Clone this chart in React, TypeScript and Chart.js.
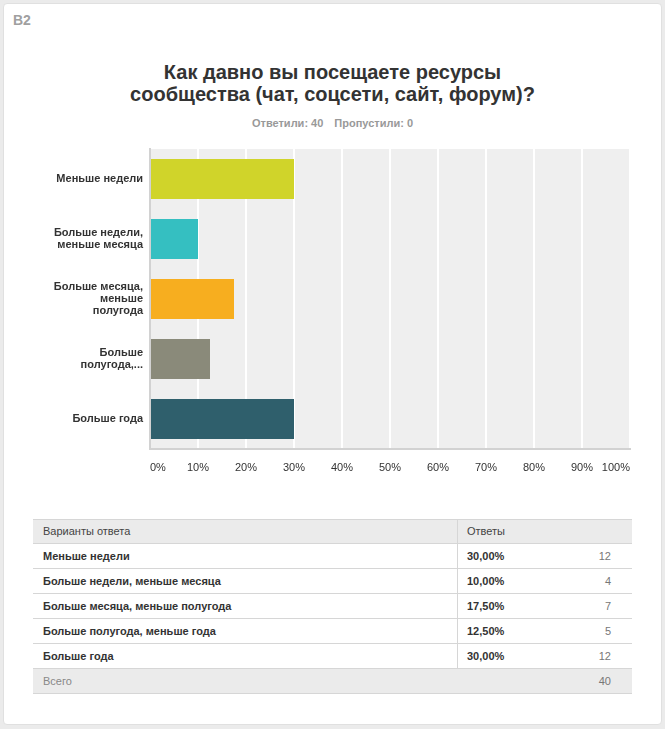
import React, { useEffect, useRef } from "react";
import { Chart, registerables } from "chart.js";

Chart.register(...registerables);

const categoryLabels: string[][] = [
  ["Меньше недели"],
  ["Больше недели,", "меньше месяца"],
  ["Больше месяца,", "меньше", "полугода"],
  ["Больше", "полугода,..."],
  ["Больше года"],
];
const tableLabels: string[] = [
  "Меньше недели",
  "Больше недели, меньше месяца",
  "Больше месяца, меньше полугода",
  "Больше полугода, меньше года",
  "Больше года",
];
const percentValues: number[] = [30, 10, 17.5, 12.5, 30];
const countValues: number[] = [12, 4, 7, 5, 12];
const barColors: string[] = ["#d0d42a", "#35bfc1", "#f7ae1f", "#8a8a7a", "#2f5f6c"];
const xTickValues: number[] = [0, 10, 20, 30, 40, 50, 60, 70, 80, 90, 100];

const FONT = "Arial, 'Liberation Sans', Helvetica, sans-serif";

const bgPlugin = {
  id: "plotBg",
  beforeDraw(chart: any) {
    const { ctx, chartArea } = chart;
    if (!chartArea) return;
    ctx.save();
    ctx.fillStyle = "#efefef";
    ctx.fillRect(chartArea.left, chartArea.top, chartArea.right - chartArea.left, chartArea.bottom - chartArea.top);
    ctx.restore();
  },
};

function BarChart() {
  const ref = useRef<HTMLCanvasElement | null>(null);
  useEffect(() => {
    if (!ref.current) return;
    const chart = new Chart(ref.current, {
      type: "bar",
      data: {
        labels: categoryLabels as any,
        datasets: [
          {
            data: percentValues,
            backgroundColor: barColors,
            borderWidth: 0,
            barPercentage: 2 / 3,
            categoryPercentage: 1,
          },
        ],
      },
      plugins: [bgPlugin],
      options: {
        indexAxis: "y",
        responsive: false,
        animation: false,
        layout: { padding: { top: 9, right: 15, left: 0, bottom: 0 } },
        plugins: { legend: { display: false }, tooltip: { enabled: false }, title: { display: false } },
        scales: {
          x: {
            min: 0,
            max: 100,
            afterBuildTicks: (s: any) => {
              s.ticks = xTickValues.map((v) => ({ value: v }));
            },
            ticks: {
              callback: (v: any) => v + "%",
              align: "inner",
              padding: 12,
              color: "#333",
              font: { family: FONT, size: 11 },
              maxRotation: 0,
              autoSkip: false,
            },
            grid: {
              color: (c: any) => (c.index === 0 ? "rgba(0,0,0,0)" : "#ffffff"),
              lineWidth: 2,
              drawTicks: false,
            },
            border: { color: "#d2d2d2", width: 2 },
            afterFit: (s: any) => {
              s.height = 41;
              s.paddingLeft = 0;
              s.paddingRight = 0;
            },
          },
          y: {
            ticks: {
              padding: 7,
              color: "#333",
              font: { family: FONT, size: 11, weight: "bold", lineHeight: 1.12 },
            },
            grid: { display: false, drawTicks: false },
            border: { color: "#d2d2d2", width: 2 },
            afterFit: (s: any) => {
              s.width = 150;
              s.paddingTop = 0;
              s.paddingBottom = 0;
            },
          },
        },
      } as any,
    });
    return () => chart.destroy();
  }, []);
  return (
    <canvas
      ref={ref}
      width={645}
      height={350}
      style={{ position: "absolute", left: 0, top: 140, width: 645, height: 350 }}
    />
  );
}

function fmtPct(v: number) {
  return v.toFixed(2).replace(".", ",") + "%";
}

export default function App() {
  const total = countValues.reduce((a, b) => a + b, 0);
  const rowTop = 544;
  const rowH = 25;
  const tableLeft = 33;
  const tableW = 599;
  const divX = 457;
  return (
    <div
      style={{
        position: "fixed",
        left: 0,
        top: 0,
        width: 665,
        height: 729,
        background: "#ebebeb",
        fontFamily: FONT,
        overflow: "hidden",
      }}
    >
      <div
        style={{
          position: "absolute",
          left: 3,
          top: 3,
          width: 657,
          height: 720,
          background: "#fff",
          borderRadius: 4,
          border: "1px solid #e0e0e0",
        }}
      />
      <div style={{ position: "absolute", left: 13, top: 12, fontSize: 14, lineHeight: "16px", fontWeight: "bold", color: "#a0a0a0" }}>
        B2
      </div>
      <div
        style={{
          position: "absolute",
          left: 0,
          width: 665,
          top: 61,
          textAlign: "center",
          fontSize: 20,
          lineHeight: "22px",
          fontWeight: "bold",
          color: "#333",
        }}
      >
        Как давно вы посещаете ресурсы
        <br />
        сообщества (чат, соцсети, сайт, форум)?
      </div>
      <div
        style={{
          position: "absolute",
          left: 0,
          width: 665,
          top: 116,
          lineHeight: "14px",
          textAlign: "center",
          fontSize: 11,
          fontWeight: "bold",
          color: "#999",
        }}
      >
        <span>Ответили: {total}</span>
        <span style={{ marginLeft: 11 }}>Пропустили: 0</span>
      </div>
      <BarChart />
      {/* table header */}
      <div
        style={{
          position: "absolute",
          left: tableLeft,
          top: 519,
          width: tableW,
          height: rowH,
          background: "#ebebeb",
          borderTop: "1px solid #d6d6d6",
          boxSizing: "border-box",
        }}
      />
      <div style={{ position: "absolute", left: 43, top: 519, height: rowH, lineHeight: rowH + "px", fontSize: 11, color: "#444" }}>
        Варианты ответа
      </div>
      <div style={{ position: "absolute", left: 467, top: 519, height: rowH, lineHeight: rowH + "px", fontSize: 11, color: "#444" }}>
        Ответы
      </div>
      <div style={{ position: "absolute", left: divX, top: 519, width: 1, height: rowTop + rowH * 5 - 519, background: "#d6d6d6" }} />
      {tableLabels.map((lab, i) => {
        const top = rowTop + i * rowH;
        return (
          <React.Fragment key={i}>
            <div style={{ position: "absolute", left: tableLeft, top: top - 1, width: tableW, height: 1, background: "#d6d6d6" }} />
            <div
              style={{
                position: "absolute",
                left: 43,
                top,
                height: rowH,
                lineHeight: rowH + "px",
                fontSize: 11,
                fontWeight: "bold",
                color: "#333",
              }}
            >
              {lab}
            </div>
            <div
              style={{
                position: "absolute",
                left: 467,
                top,
                height: rowH,
                lineHeight: rowH + "px",
                fontSize: 11,
                fontWeight: "bold",
                color: "#333",
              }}
            >
              {fmtPct(percentValues[i])}
            </div>
            <div
              style={{
                position: "absolute",
                left: 560,
                width: 51,
                textAlign: "right",
                top,
                height: rowH,
                lineHeight: rowH + "px",
                fontSize: 11,
                color: "#777",
              }}
            >
              {countValues[i]}
            </div>
          </React.Fragment>
        );
      })}
      <div
        style={{
          position: "absolute",
          left: tableLeft,
          top: rowTop + rowH * 5 - 1,
          width: tableW,
          height: rowH + 1,
          background: "#ebebeb",
          borderTop: "1px solid #d6d6d6",
          borderBottom: "1px solid #d6d6d6",
          boxSizing: "border-box",
        }}
      />
      <div
        style={{
          position: "absolute",
          left: 43,
          top: rowTop + rowH * 5,
          height: rowH,
          lineHeight: rowH + "px",
          fontSize: 11,
          color: "#888",
        }}
      >
        Всего
      </div>
      <div
        style={{
          position: "absolute",
          left: 560,
          width: 51,
          textAlign: "right",
          top: rowTop + rowH * 5,
          height: rowH,
          lineHeight: rowH + "px",
          fontSize: 11,
          color: "#777",
        }}
      >
        {total}
      </div>
    </div>
  );
}
